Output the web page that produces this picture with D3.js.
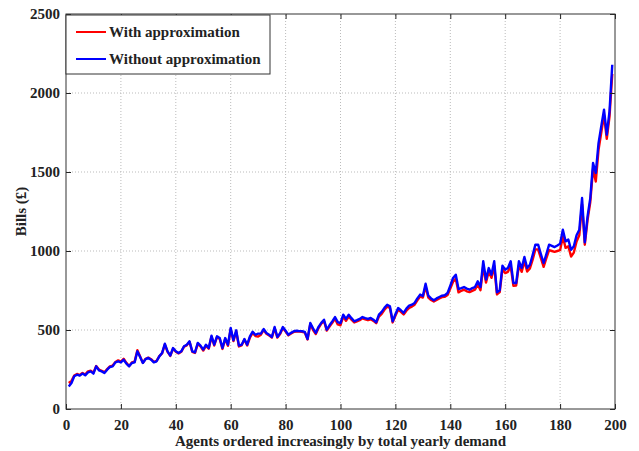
<!DOCTYPE html>
<html>
<head>
<meta charset="utf-8">
<script src="https://cdn.jsdelivr.net/npm/d3@7"></script>
<style>
  body { margin: 0; background: #fff; }
  svg text { font-family: "Liberation Serif", "Times New Roman", serif; font-weight: bold; fill: #222; }
  .grid line { stroke: #bbb; stroke-dasharray: 1,2; }
</style>
</head>
<body>
<svg width="639" height="451"></svg>
<script>
// bills per agent, agents 1..199
const withApprox = [
  165, 178, 212, 222, 215, 228, 218, 238, 242, 230, 272, 250, 242, 233, 252, 270, 275, 298, 308, 300,
  318, 292, 272, 295, 300, 372, 332, 292, 318, 325, 315, 298, 305, 335, 352, 408, 362, 336, 382, 362,
  352, 362, 395, 403, 425, 362, 355, 412, 396, 370, 400, 382, 458, 402, 455, 444, 380, 444, 400, 505,
  430, 492, 396, 403, 440, 402, 452, 482, 462, 458, 470, 500, 476, 466, 452, 512, 452, 475, 512, 490,
  466, 478, 488, 490, 490, 488, 484, 440, 538, 500, 475, 512, 540, 556, 496, 522, 545, 572, 535, 530,
  585, 558, 585, 565, 548, 555, 562, 574, 568, 562, 568, 558, 543, 585, 602, 628, 648, 640, 548, 590,
  628, 615, 598, 622, 640, 648, 660, 688, 712, 705, 775, 705, 690, 680, 690, 700, 708, 710, 722, 762,
  805, 825, 738, 748, 755, 745, 740, 748, 755, 788, 752, 905, 800, 870, 830, 905, 725, 740, 885, 860,
  868, 905, 780, 782, 910, 868, 935, 870, 890, 945, 1010, 1010, 955, 900, 955, 1005, 1000, 995, 1000, 1005,
  1090, 1020, 1030, 965, 990, 1060, 1100, 1295, 1040, 1195, 1310, 1520, 1440, 1640, 1750, 1860, 1710, 1850, 2120
];
const withoutApprox = [
  143, 165, 207, 217, 211, 224, 213, 232, 238, 224, 270, 245, 238, 228, 249, 266, 270, 295, 302, 295,
  312, 287, 270, 291, 295, 365, 329, 291, 316, 323, 312, 295, 302, 333, 354, 413, 365, 338, 386, 365,
  354, 365, 397, 407, 428, 365, 359, 418, 401, 376, 407, 386, 464, 407, 460, 449, 386, 449, 407, 513,
  435, 498, 401, 407, 443, 407, 460, 489, 470, 477, 477, 506, 481, 470, 456, 519, 456, 480, 519, 495,
  470, 482, 492, 495, 493, 492, 488, 443, 544, 510, 481, 520, 545, 565, 502, 530, 555, 582, 550, 544,
  597, 570, 597, 575, 555, 562, 570, 582, 575, 570, 576, 565, 549, 597, 615, 640, 660, 650, 555, 600,
  639, 625, 608, 635, 654, 660, 671, 700, 724, 715, 793, 717, 700, 688, 700, 709, 717, 720, 734, 780,
  829, 850, 759, 765, 772, 762, 755, 765, 772, 808, 772, 935, 819, 892, 850, 935, 738, 751, 907, 882,
  892, 935, 797, 797, 935, 892, 962, 892, 913, 975, 1040, 1040, 980, 924, 980, 1040, 1033, 1025, 1035, 1046,
  1135, 1061, 1072, 1008, 1030, 1100, 1135, 1335, 1055, 1219, 1335, 1557, 1494, 1683, 1790, 1895, 1736, 1884, 2179
];
const xTicks = [0, 20, 40, 60, 80, 100, 120, 140, 160, 180, 200];
const yTicks = [0, 500, 1000, 1500, 2000, 2500];
const seriesNames = ['With approximation', 'Without approximation'];
const seriesColors = ['#ff0000', '#0000ff'];

const margin = { left: 66, right: 24, top: 14, bottom: 42 };
const width = 639, height = 451;
const svg = d3.select('svg');

const x = d3.scaleLinear().domain([0, 200]).range([margin.left, width - margin.right]);
const y = d3.scaleLinear().domain([0, 2500]).range([height - margin.bottom, margin.top]);

// grid
const grid = svg.append('g').attr('class', 'grid');
grid.selectAll('.gx').data(xTicks.slice(1, -1)).enter().append('line')
  .attr('x1', d => x(d)).attr('x2', d => x(d))
  .attr('y1', y(0)).attr('y2', y(2500));
grid.selectAll('.gy').data(yTicks.slice(1, -1)).enter().append('line')
  .attr('x1', x(0)).attr('x2', x(200))
  .attr('y1', d => y(d)).attr('y2', d => y(d));

// series
const line = d3.line().x((d, i) => x(i + 1)).y(d => y(d));
[withApprox, withoutApprox].forEach((s, k) => {
  svg.append('path')
    .datum(s)
    .attr('d', line)
    .attr('fill', 'none')
    .attr('stroke', seriesColors[k])
    .attr('stroke-width', 2.4)
    .attr('stroke-linejoin', 'round');
});

// axes (ticks inside, box on)
const axisStyle = g => {
  g.select('.domain').remove();
  g.selectAll('.tick line').attr('stroke', '#222');
  g.selectAll('.tick text').style('font-size', '15px');
};
svg.append('g')
  .attr('transform', `translate(0,${y(0)})`)
  .call(d3.axisBottom(x).tickValues(xTicks).tickFormat(d3.format('d')).tickSizeInner(-5).tickPadding(10))
  .call(axisStyle);
svg.append('g')
  .attr('transform', `translate(${x(0)},0)`)
  .call(d3.axisLeft(y).tickValues(yTicks).tickFormat(d3.format('d')).tickSizeInner(-5).tickPadding(6))
  .call(axisStyle);
svg.append('g')
  .attr('transform', `translate(0,${y(2500)})`)
  .call(d3.axisTop(x).tickValues(xTicks).tickSizeInner(-5).tickFormat(''))
  .call(axisStyle);
svg.append('g')
  .attr('transform', `translate(${x(200)},0)`)
  .call(d3.axisRight(y).tickValues(yTicks).tickSizeInner(-5).tickFormat(''))
  .call(axisStyle);

svg.append('rect')
  .attr('x', x(0)).attr('y', y(2500))
  .attr('width', x(200) - x(0)).attr('height', y(0) - y(2500))
  .attr('fill', 'none').attr('stroke', '#333').attr('stroke-width', 1);

// axis titles
svg.append('text')
  .attr('x', (x(0) + x(200)) / 2).attr('y', 446)
  .attr('text-anchor', 'middle')
  .style('font-size', '15px')
  .text('Agents ordered increasingly by total yearly demand');
svg.append('text')
  .attr('transform', `translate(26,${(y(0) + y(2500)) / 2}) rotate(-90)`)
  .attr('text-anchor', 'middle')
  .style('font-size', '15px')
  .text('Bills (£)');

// legend
const legend = svg.append('g');
legend.append('rect')
  .attr('x', 66).attr('y', 15).attr('width', 204).attr('height', 59)
  .attr('fill', '#fff').attr('stroke', '#333');
seriesNames.forEach((name, k) => {
  const ly = 32 + k * 27;
  legend.append('line')
    .attr('x1', 76).attr('x2', 106).attr('y1', ly).attr('y2', ly)
    .attr('stroke', seriesColors[k]).attr('stroke-width', 2);
  legend.append('text')
    .attr('x', 109).attr('y', ly + 5)
    .style('font-size', '15px')
    .text(name);
});
</script>
</body>
</html>
